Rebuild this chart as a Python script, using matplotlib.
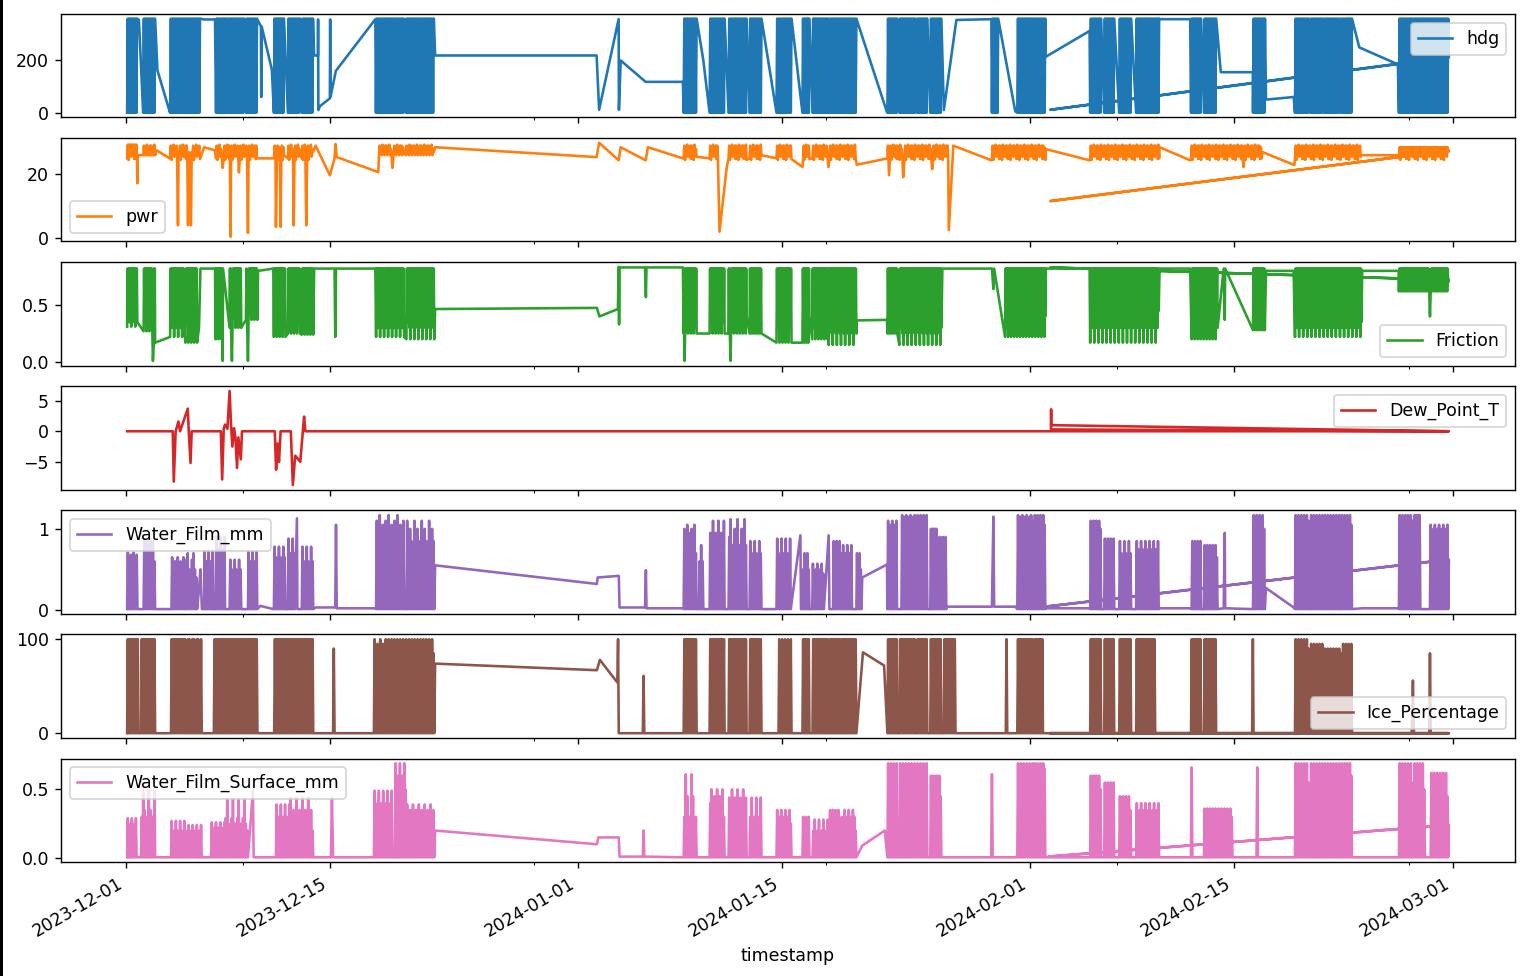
import numpy as np
import matplotlib
matplotlib.use("Agg")
import matplotlib.pyplot as plt
import matplotlib.dates as mdates
from matplotlib.ticker import FixedLocator
from matplotlib.patches import Rectangle

# ---------------- data (day offsets from 2023-12-01) ----------------
# block = (day_start, day_end, low(s), high(s)) : dense back-and-forth readings
# point = (day, value)
start_date = "2023-12-01"

hdg_pieces = [
    (0.07, 0.75, 0, 360), (0.88, 355),
    (1.17, 1.99, 0, 360), (2.15, 162), (3.0, 2),
    (3.02, 3.98, 0, 360), (4.04, 5.07, 0, 360),
    (5.35, 357), (6.1, 357),
    (6.17, 6.99, 0, 360), (7.06, 8.09, 0, 360), (8.22, 8.98, 0, 360),
    (9.25, 330), (9.27, 60), (9.3, 330), (10.0, 165),
    (10.14, 10.83, 0, 360), (11.10, 11.93, 0, 360), (12.06, 12.82, 0, 360),
    (12.9, 219), (13.16, 219), (13.17, 357), (13.19, 10), (13.3, 25), (13.98, 55),
    (14.0, 357), (14.02, 60), (14.39, 160), (17.1, 358),
    (17.14, 19.05, 0, 360), (19.19, 21.11, 0, 360),
    (21.2, 219), (32.28, 219), (32.45, 11), (33.79, 358), (33.81, 11), (33.93, 200),
    (35.64, 118), (38.2, 118),
    (38.25, 39.14, 0, 360), (39.6, 200), (40.03, 41.06, 0, 360), (41.33, 42.57, 0, 360),
    (42.77, 43.59, 0, 360), (44.62, 45.65, 0, 360), (46.40, 46.88, 0, 360),
    (47.09, 48.18, 0, 360), (48.25, 49.0, 0, 360), (49.05, 50.10, 0, 360),
    (52.2, 2), (52.23, 52.91, 0, 360), (53.05, 54.15, 0, 360), (54.25, 54.97, 0, 360),
    (55.17, 55.93, 0, 360), (56.1, 10), (56.96, 355), (59.36, 358),
    (59.4, 59.83, 0, 360), (61.0, 5), (61.14, 62.24, 0, 360), (62.3, 63.06, 0, 360),
    (63.06, 213), (66.1, 313),
    (66.14, 66.89, 0, 360), (67.10, 67.79, 0, 360), (68.13, 68.95, 0, 360), (69.29, 70.87, 0, 360),
    (71.0, 358), (73.0, 358), (73.06, 73.75, 0, 360), (73.95, 74.78, 0, 360),
    (75.1, 155), (77.3, 155), (77.31, 78.13, 0, 360), (78.2, 50), (80.1, 60),
    (80.19, 81.15, 0, 360), (81.25, 82.11, 0, 360), (82.2, 83.27, 0, 360), (83.35, 84.10, 0, 360),
    (84.6, 250), (87.25, 185),
    (87.32, 88.28, 0, 360), (88.35, 89.45, 0, 360), (89.5, 90.7, 0, 360), (90.75, 212),
    (63.4, 11), (90.6, 212),
]

P = [25, 24.5, 26, 25.5, 27, 24.8]
PH = [29, 28.5, 29.3, 28, 29]
pwr_pieces = [
    (0.07, 0.75, P, 29.3), (0.77, 17.2), (0.8, 26),
    (1.17, 1.99, 26, PH), (2.1, 27.5), (3.0, 25),
    (3.02, 3.5, P, PH), (3.56, 4), (3.6, 27), (3.65, 4.2, P, PH), (4.25, 4), (4.3, 27),
    (4.45, 4), (4.5, 27), (4.55, 5.07, P, PH), (5.35, 28.5), (6.1, 27.5),
    (6.17, 6.55, P, PH), (6.62, 22), (6.7, 6.99, P, PH),
    (7.06, 7.12, P, PH), (7.16, 0.4), (7.2, 7.7, P, PH), (7.74, 20.6), (7.8, 8.3, P, PH),
    (8.36, 1.6), (8.4, 8.98, P, PH),
    (10.14, 10.25, P, PH), (10.28, 3.5), (10.35, 10.55, P, PH), (10.6, 3.5), (10.65, 10.83, P, PH),
    (11.10, 11.45, P, PH), (11.5, 4), (11.55, 11.93, P, PH),
    (12.06, 12.3, P, PH), (12.36, 4), (12.42, 12.82, P, PH),
    (13.0, 29), (13.98, 19.7), (14.3, 25), (14.37, 29.5), (14.45, 25.4), (17.3, 20.7),
    (17.35, 18.2, [26, 27], PH), (18.27, 22), (18.35, 19.05, [26, 27], PH),
    (19.19, 21.11, [26, 27], PH),
    (21.2, 28.5), (32.28, 25.4), (32.45, 29.9), (33.79, 24.4), (33.93, 28.5), (35.64, 24.4),
    (35.8, 28.5), (38.2, 25),
    (38.25, 39.14, P, PH), (40.03, 40.6, P, PH), (40.71, 2.0), (41.2, 22),
    (41.33, 42.57, P, PH), (42.77, 43.59, P, PH), (44.62, 45.65, P, PH),
    (46.4, 22.3), (46.45, 46.88, P, PH), (47.09, 48.1, P, PH), (48.18, 22.3),
    (48.25, 50.05, P, PH), (50.13, 23),
    (52.23, 52.3, P, PH), (52.34, 19.7), (52.4, 53.25, P, PH), (53.31, 19.1),
    (53.4, 55.25, P, PH), (55.3, 21.6), (55.35, 56.4, P, PH), (56.44, 2.5), (56.75, 29),
    (59.36, 24.4), (59.4, 63.06, P, PH), (63.1, 27.9), (66.1, 24.4),
    (66.14, 70.87, P, PH), (70.9, 28.5), (73.0, 24.4),
    (73.06, 76.6, P, PH), (76.66, 22.3), (76.7, 77.9, P, PH), (77.95, 27), (80.15, 22.9),
    (80.19, 84.7, P, PH), (84.75, 26), (87.3, 26),
    (87.32, 90.7, P, 28.5), (90.75, 27.4),
    (63.4, 11.6), (90.7, 27.4),
]

friction_pieces = [
    (0.07, 0.77, [0.31, 0.5, 0.35, 0.45], 0.82),
    (1.2, 1.8, [0.27, 0.45, 0.35], 0.82), (1.84, 0.01), (1.9, 1.99, 0.17, 0.82),
    (3.02, 3.98, [0.22, 0.4, 0.3, 0.5], 0.82), (4.07, 4.87, [0.17, 0.35, 0.45], 0.82),
    (5.0, 0.3), (5.1, 0.82), (5.35, 0.82), (6.1, 0.82),
    (6.14, 6.6, [0.2, 0.4, 0.3], 0.82), (6.62, 0.01), (6.65, 0.82),
    (7.1, 7.2, 0.3, 0.82), (7.26, 0.01), (7.3, 7.9, [0.3, 0.45, 0.38], 0.82),
    (8.22, 8.3, 0.37, 0.82), (8.36, 0.01), (8.4, 9.0, [0.37, 0.5, 0.42], 0.82),
    (9.05, 0.8), (10.1, 0.82),
    (10.14, 10.93, [0.22, 0.4, 0.3], 0.82), (11.1, 11.93, [0.25, 0.45, 0.35], 0.82),
    (12.05, 12.84, [0.24, 0.4, 0.3], 0.82),
    (12.9, 0.82), (14.3, 0.82), (14.35, 0.22), (14.4, 0.82), (17.1, 0.82),
    (17.15, 19.07, [0.22, 0.4, 0.3, 0.5], 0.82), (19.23, 21.14, [0.2, 0.35, 0.45, 0.3], 0.82),
    (21.2, 0.465), (32.3, 0.475), (32.47, 0.40), (33.74, 0.465), (33.8, 0.835), (33.82, 0.33),
    (33.85, 0.83), (35.6, 0.83), (35.66, 0.57), (35.7, 0.83), (38.2, 0.83),
    (38.25, 38.3, 0.25, 0.82), (38.31, 0.01), (38.35, 39.14, [0.25, 0.4, 0.3], 0.82),
    (40.03, 41.06, [0.25, 0.45, 0.35], 0.82), (41.33, 41.42, 0.25, 0.82), (41.47, 0.01),
    (41.5, 42.57, [0.25, 0.4, 0.5], 0.82),
    (42.77, 43.59, [0.25, 0.4], 0.82), (44.62, 45.65, [0.17, 0.35, 0.3], 0.82),
    (46.4, 46.88, [0.17, 0.4], 0.82),
    (47.07, 48.18, [0.2, 0.35, 0.3], 0.82), (48.2, 50.1, [0.15, 0.3, 0.4, 0.25], 0.82),
    (50.13, 0.365), (52.2, 0.37),
    (52.23, 52.91, [0.25, 0.4], 0.82), (53.05, 55.93, [0.15, 0.3, 0.4, 0.25], 0.82),
    (56.0, 0.82), (59.4, 0.82),
    (59.5, 0.64), (59.55, 0.82), (60.3, 63.06, [0.22, 0.4, 0.3], 0.82),
    (63.1, 0.82), (66.1, 0.82), (66.14, 70.84, [0.17, 0.35, 0.3, 0.45], 0.82),
    (70.9, 0.82), (73.0, 0.82),
    (73.1, 74.88, [0.2, 0.35, 0.3], 0.82), (75.3, 0.82), (75.37, 0.37), (75.4, 0.82),
    (77.31, 78.12, [0.28, 0.45], 0.82), (78.2, 0.80), (80.1, 0.80),
    (80.19, 84.75, [0.22, 0.35, 0.3, 0.45], 0.82), (84.8, 0.8), (87.3, 0.8),
    (87.32, 89.4, [0.62, 0.7], 0.82), (89.45, 0.4), (89.5, 90.7, [0.62, 0.7], 0.82), (90.75, 0.72),
    (63.4, 0.83), (90.6, 0.72),
]

dew_pieces = [
    (0.07, 0), (3.2, 0), (3.27, -8.25), (3.4, 0), (3.59, 1.6), (3.7, 0), (4.23, 3.7), (4.3, 0),
    (4.42, -5.2), (4.5, 0), (6.5, 0), (6.59, -7.9), (6.7, 0.5), (6.79, 1.1), (6.95, 0.4),
    (7.10, 6.6), (7.2, 1.0), (7.29, -2.5), (7.4, 0.5), (7.5, -1.0), (7.61, -6.0), (7.7, -1.0),
    (7.87, -4.6), (7.95, 0), (10.2, 0), (10.29, -6.3), (10.4, -2.0), (10.49, -5.0), (10.6, 0),
    (11.3, 0), (11.44, -8.8), (11.6, -4.0), (11.95, -5.0), (12.21, 2.4), (12.3, 0),
    (63.4, 0), (90.75, 0),
    (63.45, 0.3), (63.46, 3.6), (63.47, 1.0), (90.6, 0.0),
]

water_pieces = [
    (0.07, 0.78, 0.01, [0.71, 0.6, 0.68, 0.5]),
    (1.2, 1.99, 0.01, [0.88, 0.75, 0.85, 0.6]),
    (3.0, 0.01), (3.11, 3.98, 0.01, [0.65, 0.55, 0.6, 0.4]),
    (4.07, 4.87, 0.01, [0.62, 0.7, 0.5, 0.4]), (5.0, 0.25), (5.1, 0.5), (5.2, 0.01),
    (5.35, 5.98, 0.01, [0.73, 0.6, 0.5]), (6.14, 6.79, 0.01, [0.9, 0.75, 0.6]),
    (7.1, 7.9, 0.01, [0.62, 0.5, 0.4]), (8.36, 9.0, 0.01, [0.72, 0.6, 0.5]),
    (9.2, 0.05), (10.1, 0.01),
    (10.14, 10.93, 0.01, [0.78, 0.65, 0.5]), (11.1, 11.57, 0.01, [0.88, 0.7, 0.6]), (11.72, 1.13),
    (11.75, 0.01), (12.05, 12.84, 0.01, [0.78, 0.6, 0.5]),
    (13.0, 0.03), (14.35, 0.03), (14.4, 1.05), (14.45, 0.02), (17.1, 0.02),
    (17.15, 19.07, 0.01, [1.1, 0.95, 1.17, 0.9, 1.05, 0.8]),
    (19.23, 21.14, 0.01, [1.1, 0.9, 1.0, 0.85, 0.7]),
    (21.2, 0.55), (32.3, 0.32), (32.35, 0.40), (33.8, 0.42), (33.85, 0.03), (35.6, 0.03),
    (35.66, 0.49), (35.7, 0.02), (38.2, 0.02),
    (38.25, 39.14, 0.01, [1.0, 0.85, 1.05, 0.7, 0.95]), (39.3, 39.6, 0.01, [0.6, 0.8]),
    (40.03, 41.06, 0.01, [0.95, 0.8, 1.1, 0.7]),
    (41.33, 42.57, 0.01, [0.9, 1.12, 0.8, 0.65, 1.0]), (42.77, 43.59, 0.01, [0.85, 0.7, 0.5]),
    (44.62, 45.6, 0.01, [0.88, 0.7, 0.6]), (46.26, 0.92), (46.3, 0.01),
    (46.4, 46.88, 0.01, [0.5, 0.7]), (47.07, 47.87, 0.01, [0.57, 0.45, 0.5]),
    (48.2, 0.92), (48.25, 0.01), (48.5, 49.0, 0.01, [0.85, 0.6]),
    (49.05, 49.8, 0.01, [0.7, 0.8, 0.55]), (50.1, 50.45, 0.01, [0.7, 0.5]),
    (50.5, 0.40), (52.2, 0.56),
    (52.23, 52.89, 0.01, [1.1, 0.9, 1.05]), (53.19, 54.15, 0.01, [1.17, 1.0, 1.15]),
    (54.25, 54.97, 0.01, [1.17, 1.1]), (55.17, 55.63, 0.01, 1.0), (55.63, 56.27, 0.01, [0.9, 0.8]),
    (56.3, 0.04), (59.4, 0.04), (59.5, 1.15), (59.55, 0.04), (61.0, 0.04),
    (61.14, 62.24, 0.01, [1.17, 1.1, 1.15]), (62.3, 63.06, 0.01, [1.17, 1.05]),
    (63.1, 0.02), (66.1, 0.02),
    (66.14, 66.89, 0.01, [1.1, 1.0]), (67.10, 67.79, 0.01, [0.88, 0.7]),
    (68.13, 68.95, 0.01, [0.85, 0.7, 0.6]), (69.29, 70.84, 0.01, [0.85, 0.75, 0.6]),
    (70.9, 0.02), (73.0, 0.02), (73.1, 73.75, 0.01, [0.85, 0.7]), (73.95, 74.88, 0.01, [0.8, 0.65]),
    (75.3, 0.02), (75.37, 0.95), (75.4, 0.02),
    (77.31, 78.12, 0.01, [1.17, 1.0]), (78.2, 0.27), (80.1, 0.03),
    (80.19, 81.15, 0.01, [1.17, 1.1]), (81.25, 82.11, 0.01, [1.17, 1.0]),
    (82.2, 83.27, 0.01, [1.17, 1.1]), (83.35, 84.10, 0.01, [1.17, 1.05]),
    (84.8, 0.02), (87.3, 0.02),
    (87.32, 88.28, 0.01, [1.17, 1.1]), (88.35, 88.79, 0.01, 1.17),
    (89.45, 90.7, 0.01, [1.05, 0.9, 1.0]), (90.75, 0.62),
    (63.06, 0.04), (90.6, 0.62),
]

ice_pieces = [
    (0.07, 0.85, 0, 100), (1.03, 1.99, 0, 100),
    (3.08, 3.9, 0, 100), (3.9, 5.19, 0, [100, 100, 74]),
    (6.02, 7.1, 0, 100), (7.1, 9.01, 0, 100),
    (10.16, 11.24, 0, 100), (11.24, 12.84, 0, 100),
    (14.2, 0), (14.25, 90), (14.3, 0),
    (17.0, 17.96, 0, [100, 90, 95, 80]), (17.96, 21.14, 0, [100, 95, 100, 85]),
    (21.2, 74), (32.3, 67), (32.5, 78), (33.7, 54), (33.75, 100), (33.8, 0),
    (35.45, 0), (35.5, 61), (35.55, 0),
    (38.25, 39.14, 0, 100), (40.03, 41.06, 0, 100), (41.33, 42.57, 0, 100), (42.77, 43.59, 0, 100),
    (44.76, 45.65, 0, [100, 62]), (46.40, 46.88, 0, 100), (47.09, 48.18, 0, 100),
    (48.25, 49.0, 0, 100), (49.05, 50.10, 0, 100),
    (50.55, 86), (52.0, 72),
    (52.23, 52.91, 0, 100), (53.05, 54.15, 0, 100), (54.25, 54.97, 0, 100), (55.17, 55.93, 0, 100),
    (56.1, 56.9, 0, 100),
    (60.35, 0), (60.4, 100), (60.45, 0),
    (61.14, 62.24, 0, 100), (62.3, 62.9, 0, 100),
    (66.14, 66.89, 0, 100), (67.10, 67.79, 0, 100), (68.13, 68.95, 0, 100), (69.29, 70.6, 0, 100),
    (73.06, 73.75, 0, 100), (73.95, 74.78, 0, 100),
    (77.25, 0), (77.3, 100), (77.35, 0),
    (80.19, 81.15, 0, [100, 90]), (81.25, 82.11, 0, [95, 85]), (82.2, 83.27, 0, [90, 80]),
    (83.35, 84.1, 0, [85, 95]),
    (88.2, 0), (88.28, 56), (88.35, 0),
    (89.4, 0), (89.45, 85), (89.5, 0), (90.75, 0),
    (63.4, 0), (90.6, 0),
]

surface_pieces = [
    (0.07, 0.72, 0.005, [0.29, 0.2, 0.25]),
    (1.03, 1.99, 0.005, [0.3, 0.49, 0.35, 0.2]),
    (3.08, 4.23, 0.005, [0.27, 0.2, 0.15]), (4.23, 5.19, 0.005, [0.24, 0.15, 0.2]),
    (5.83, 6.79, 0.005, [0.26, 0.18, 0.22]), (6.79, 8.36, 0.005, [0.29, 0.43, 0.25, 0.2]),
    (8.7, 0.49), (8.75, 0.005),
    (10.28, 11.24, 0.005, [0.39, 0.3, 0.2]), (11.24, 12.84, 0.005, [0.44, 0.3, 0.35, 0.2]),
    (14.05, 0.005), (14.12, 0.44), (14.2, 0.005),
    (17.0, 18.27, 0.005, [0.49, 0.35, 0.4]), (18.44, 19.23, 0.005, [0.69, 0.5, 0.6]),
    (19.23, 21.14, 0.005, [0.39, 0.3, 0.35, 0.25]),
    (21.2, 0.20), (32.3, 0.10), (32.4, 0.15), (33.8, 0.15), (33.85, 0.01),
    (35.45, 0.01), (35.5, 0.2), (35.55, 0.01),
    (38.25, 39.14, 0.005, [0.3, 0.61, 0.45, 0.25]), (40.03, 41.06, 0.005, [0.4, 0.5, 0.3, 0.45]),
    (41.33, 42.57, 0.005, [0.44, 0.3, 0.5, 0.25]), (42.77, 43.59, 0.005, [0.3, 0.44, 0.2]),
    (44.62, 45.65, 0.005, [0.35, 0.25, 0.3]), (46.40, 46.88, 0.005, [0.3, 0.2]),
    (47.09, 48.18, 0.005, [0.2, 0.28, 0.15]), (48.25, 49.0, 0.005, [0.35, 0.25]),
    (49.05, 50.10, 0.005, [0.3, 0.2, 0.35]),
    (50.5, 0.09), (52.05, 0.2),
    (52.23, 52.91, 0.005, [0.69, 0.5]), (53.05, 54.15, 0.005, [0.69, 0.6]),
    (54.25, 54.97, 0.005, [0.69, 0.55]), (55.17, 55.93, 0.005, [0.6, 0.45]),
    (59.35, 0.005), (59.4, 0.61), (59.45, 0.005),
    (61.14, 62.24, 0.005, [0.69, 0.6]), (62.3, 63.06, 0.005, [0.69, 0.65]),
    (66.14, 66.89, 0.005, [0.6, 0.5]), (67.10, 67.79, 0.005, [0.55, 0.4]),
    (68.13, 68.95, 0.005, [0.45, 0.35]), (69.29, 70.87, 0.005, [0.4, 0.3, 0.35]),
    (73.05, 0.005), (73.1, 0.66), (73.15, 0.005),
    (73.95, 74.78, 0.005, [0.36, 0.25]), (74.9, 75.9, 0.005, [0.36, 0.3]),
    (77.55, 0.005), (77.6, 0.66), (77.65, 0.005),
    (80.19, 81.15, 0.005, [0.69, 0.55]), (81.25, 82.11, 0.005, [0.69, 0.6]),
    (82.2, 83.27, 0.005, [0.69, 0.5]), (83.35, 84.10, 0.005, [0.69, 0.6]),
    (87.32, 88.28, 0.005, [0.69, 0.55]), (88.35, 89.1, 0.005, [0.69, 0.5]),
    (89.5, 90.7, 0.005, [0.62, 0.45]), (90.75, 0.24),
    (63.26, 0.01), (90.6, 0.24),
]

series_names = ["hdg", "pwr", "Friction", "Dew_Point_T", "Water_Film_mm",
                "Ice_Percentage", "Water_Film_Surface_mm"]
legend_locs = ["upper right", "lower left", "lower right", "upper right",
               "upper left", "lower right", "upper left"]
yticks = [[0, 200], [0, 20], [0.0, 0.5], [-5, 0, 5], [0, 1], [0, 100], [0.0, 0.5]]
major_dates = ["2023-12-01", "2023-12-15", "2024-01-01", "2024-01-15",
               "2024-02-01", "2024-02-15", "2024-03-01"]
minor_dates = ["2023-12-09", "2023-12-29", "2024-01-18", "2024-02-07", "2024-02-27"]


def expand(pieces, step, end_high=False):
    t, v = [], []
    for p in pieces:
        if len(p) == 2:
            t.append(p[0]); v.append(p[1]); continue
        d0, d1, lo, hi = p
        his = hi if isinstance(hi, (list, tuple)) else [hi]
        los = lo if isinstance(lo, (list, tuple)) else [lo]
        n = max(2, int(round((d1 - d0) / step)))
        if end_high:
            if n % 2 == 0:
                n += 1
        elif n % 2:
            n += 1
        ts = np.linspace(d0, d1, n + 1)
        kh = kl = 0
        for i, tt in enumerate(ts):
            t.append(tt)
            if i % 2 == 0:
                v.append(los[kl % len(los)]); kl += 1
            else:
                v.append(his[kh % len(his)]); kh += 1
    return np.array(t), np.array(v)


all_pieces = [hdg_pieces, pwr_pieces, friction_pieces, dew_pieces,
              water_pieces, ice_pieces, surface_pieces]
steps = [0.05, 0.05, 0.035, 0.05, 0.05, 0.05, 0.05]
end_high = [True, False, False, False, False, False, False]

base = mdates.date2num(np.datetime64(start_date))
colors = plt.rcParams["axes.prop_cycle"].by_key()["color"]

fig, axes = plt.subplots(7, 1, figsize=(12.176, 7.808), dpi=125, sharex=True)
fig.subplots_adjust(left=0.0401, right=0.9954, top=0.9857, bottom=0.1168, hspace=0.2)

for i, ax in enumerate(axes):
    t, v = expand(all_pieces[i], steps[i], end_high[i])
    ax.plot(base + t, v, color=colors[i], lw=1.5, label=series_names[i])
    ax.yaxis.set_major_locator(FixedLocator(yticks[i]))
    ax.legend(loc=legend_locs[i])

ax = axes[-1]
ax.xaxis_date()
ax.xaxis.set_major_locator(FixedLocator([mdates.datestr2num(d) for d in major_dates]))
ax.xaxis.set_minor_locator(FixedLocator([mdates.datestr2num(d) for d in minor_dates]))
ax.xaxis.set_major_formatter(mdates.DateFormatter("%Y-%m-%d"))
for lab in ax.get_xticklabels():
    lab.set_rotation(30)
    lab.set_ha("right")
ax.set_xlabel("timestamp")

# thin dark strip on the left edge, as in the reference screenshot
fig.patches.append(Rectangle((0, 0), 3 / 1522, 1, transform=fig.transFigure,
                             facecolor="black", edgecolor="none", zorder=10))

fig.savefig("out.png", dpi=125)
